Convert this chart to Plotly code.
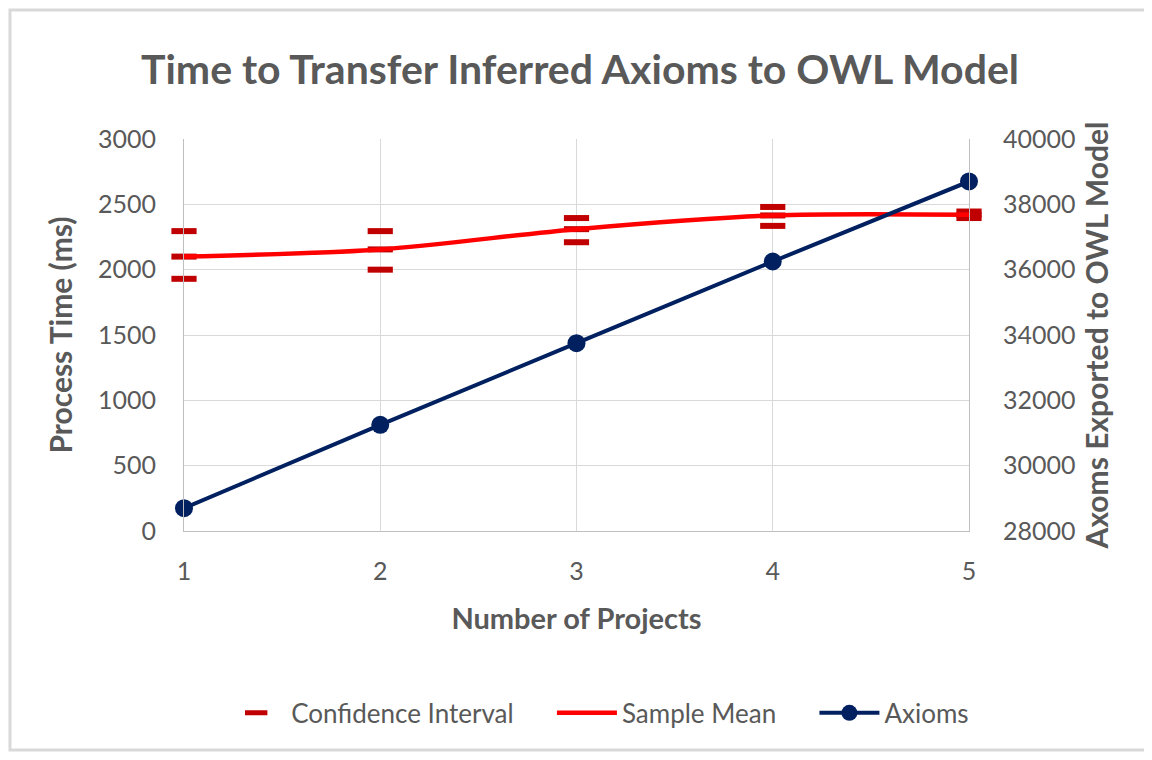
import plotly.graph_objects as go

projects = [1, 2, 3, 4, 5]
ci_upper = [2295, 2295, 2395, 2480, 2445]
ci_lower = [1930, 2000, 2210, 2335, 2395]
sample_mean = [2100, 2155, 2310, 2415, 2420]
axioms = [28700, 31250, 33750, 36250, 38700]

grey = "#595959"
font_fam = "Lato, Open Sans, sans-serif"
pad = "\u00a0" * 5

ci_x = projects * 3
ci_y = ci_upper + sample_mean + ci_lower

fig = go.Figure()
fig.add_trace(go.Scatter(
    x=ci_x, y=ci_y, mode="markers", name="Confidence Interval" + pad,
    cliponaxis=False,
    marker=dict(symbol="line-ew", size=18, color="#C00000",
                line=dict(color="#C00000", width=6)),
))
fig.add_trace(go.Scatter(
    x=projects, y=sample_mean, mode="lines", name="Sample Mean" + pad,
    cliponaxis=False,
    line=dict(color="#FF0000", width=4.5, shape="spline", smoothing=0.8),
))
fig.add_trace(go.Scatter(
    x=projects, y=axioms, mode="lines+markers", name="Axioms", yaxis="y2",
    cliponaxis=False,
    line=dict(color="#002060", width=4),
    marker=dict(symbol="circle", size=18, color="#002060"),
))

fig.update_layout(
    width=1144, height=752,
    paper_bgcolor="white", plot_bgcolor="white",
    margin=dict(l=176, r=183, t=131, b=229),
    font=dict(family=font_fam, color=grey, size=25),
    title=dict(text="<b>Time to Transfer Inferred Axioms to OWL Model</b>",
               x=0.5, xanchor="center", y=0.9176, yanchor="middle",
               font=dict(size=41, color=grey)),
    xaxis=dict(range=[1, 5], dtick=1, showgrid=True, gridcolor="#d9d9d9",
               showline=True, linecolor="#bfbfbf", zeroline=False,
               ticks="", ticklabelstandoff=18,
               title=dict(text="<b>Number of Projects</b>", font=dict(size=29), standoff=24)),
    yaxis=dict(range=[0, 3000], dtick=500, showgrid=True, gridcolor="#d9d9d9",
               showline=True, linecolor="#bfbfbf", zeroline=False,
               ticks="", ticklabelstandoff=22,
               title=dict(text="<b>Process Time (ms)</b>", font=dict(size=30), standoff=16)),
    yaxis2=dict(range=[28000, 40000], dtick=2000, overlaying="y", side="right",
                showgrid=False, showline=True, linecolor="#bfbfbf", zeroline=False,
                ticks="", ticklabelstandoff=28, tickformat="d",
                title=dict(text="<b>Axoms Exported to OWL Model</b>", font=dict(size=30), standoff=12)),
    legend=dict(orientation="h", x=0.527, xanchor="center", y=-0.464, yanchor="middle",
                font=dict(size=26), itemwidth=60, traceorder="normal",
                bgcolor="rgba(0,0,0,0)"),
    shapes=[dict(type="rect", xref="paper", yref="paper",
                 x0=-0.2217, x1=1.2306, y0=-0.5587, y1=1.329,
                 line=dict(color="#d9d9d9", width=3), layer="below")],
)

fig.write_html("out.html")
